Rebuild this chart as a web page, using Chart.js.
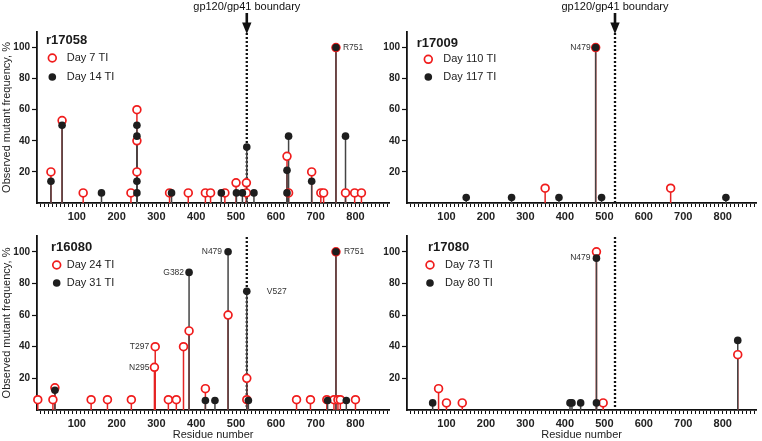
<!DOCTYPE html>
<html><head><meta charset="utf-8">
<script src="https://cdn.jsdelivr.net/npm/chart.js@4.4.1/dist/chart.umd.min.js"></script>
<style>
html,body{margin:0;padding:0;background:#fff;width:762px;height:441px;overflow:hidden;position:relative;}
canvas{position:absolute;}
</style></head><body>
<canvas id="c1" width="395" height="226" style="left:0;top:0"></canvas>
<canvas id="c2" width="382" height="226" style="left:380px;top:0"></canvas>
<canvas id="c3" width="395" height="215" style="left:0;top:226px"></canvas>
<canvas id="c4" width="382" height="215" style="left:380px;top:226px"></canvas>
<script>
Chart.defaults.font.family = "'Liberation Sans', Arial, sans-serif";
Chart.defaults.color = '#222';

// ---- shared axis values ----
const BOUNDARY = 527;
const X_MAX = 885;
const yTickValues = [20, 40, 60, 80, 100];
const xTickLabels = [100, 200, 300, 400, 500, 600, 700, 800];
const X_MINOR_STEP = 10;

// ---- r17058 ----
const r17058_day7_res  = [35,63,116,236,251,251,251,333,380,423,436,472,500,526,526,628,632,690,713,720,751,775,798,815];
const r17058_day7_freq = [20,53,6.5,6.5,60,40,20,6.5,6.5,6.5,6.5,6.5,13,13,6.5,30,6.5,20,6.5,6.5,100,6.5,6.5,6.5];
const r17058_day14_res  = [35,63,162,251,251,251,251,338,463,501,516,527,545,628,628,632,690,751,775];
const r17058_day14_freq = [14,50,6.5,50,43,14,6.5,6.5,6.5,6.5,6.5,36,6.5,21,6.5,43,14,100,43];

// ---- r17009 ----
const r17009_day110_res  = [350,478,668];
const r17009_day110_freq = [9.5,100,9.5];
const r17009_day117_res  = [150,265,385,478,493,808];
const r17009_day117_freq = [3.5,3.5,3.5,100,3.5,3.5];

// ---- r16080 ----
const r16080_day24_res  = [2,40,45,136,177,237,295,297,330,350,368,382,423,480,527,527,652,687,728,746,751,756,762,800];
const r16080_day24_freq = [6.5,6.5,14,6.5,6.5,6.5,27,40,6.5,6.5,40,50,13.5,60,20,6.5,6.5,6.5,6.5,6.5,100,6.5,6.5,6.5];
const r16080_day31_res  = [45,382,423,447,480,527,531,730,751,777];
const r16080_day31_freq = [12.5,87,6,6,100,75,6,6,100,6];

// ---- r17080 ----
const r17080_day73_res  = [80,100,140,480,497,838];
const r17080_day73_freq = [13.5,4.5,4.5,100,4.5,35];
const r17080_day80_res  = [65,413,418,440,480,480,838];
const r17080_day80_freq = [4.5,4.5,4.5,4.5,4.5,96,44];

const RED = '#f01c1c';
const BLACK = '#1e1e1e';

const panelPlugin = {
  id: 'panel',
  beforeDatasetsDraw(chart, args, o) {
    const {ctx, chartArea, scales: {x, y}} = chart;
    const y0 = y.getPixelForValue(0);
    const bx = x.getPixelForValue(BOUNDARY);
    ctx.save();
    ctx.strokeStyle = '#111';
    ctx.lineWidth = 2.3;
    ctx.setLineDash([2, 2]);
    ctx.beginPath();
    ctx.moveTo(bx, chartArea.top + 1);
    ctx.lineTo(bx, y0);
    ctx.stroke();
    ctx.setLineDash([]);
    [1, 0].forEach(di => {
      const ds = chart.data.datasets[di];
      const meta = chart.getDatasetMeta(di);
      ctx.strokeStyle = ds.stemColor;
      ctx.lineWidth = 1.5;
      meta.data.forEach(pt => {
        ctx.beginPath();
        ctx.moveTo(pt.x, y0);
        ctx.lineTo(pt.x, pt.y);
        ctx.stroke();
      });
    });
    ctx.restore();
  },
  afterDraw(chart, args, o) {
    const {ctx, chartArea, scales: {x, y}} = chart;
    ctx.save();
    // boundary arrow + caption
    if (o.arrow) {
      const bx = x.getPixelForValue(BOUNDARY);
      ctx.strokeStyle = '#111';
      ctx.fillStyle = '#111';
      ctx.lineWidth = 2.6;
      ctx.beginPath();
      ctx.moveTo(bx, 13);
      ctx.lineTo(bx, 24);
      ctx.stroke();
      ctx.beginPath();
      ctx.moveTo(bx - 4.7, 22.5);
      ctx.lineTo(bx + 4.7, 22.5);
      ctx.lineTo(bx, 34);
      ctx.closePath();
      ctx.fill();
      ctx.font = "11px 'Liberation Sans', Arial, sans-serif";
      ctx.textAlign = 'center';
      ctx.textBaseline = 'middle';
      ctx.fillText('gp120/gp41 boundary', bx, 6.5);
    }
    // legend
    const L = o.legend;
    const lx = chartArea.left, ty = chartArea.top;
    ctx.fillStyle = '#1a1a1a';
    ctx.font = "bold 13px 'Liberation Sans', Arial, sans-serif";
    ctx.textAlign = 'left';
    ctx.textBaseline = 'middle';
    ctx.fillText(L.title, lx + L.titleDx, ty + L.titleDy);
    ctx.font = "11px 'Liberation Sans', Arial, sans-serif";
    ctx.fillStyle = '#222';
    ctx.fillText(chart.data.datasets[1].label, lx + L.textDx, ty + L.redDy);
    ctx.fillText(chart.data.datasets[0].label, lx + L.textDx, ty + L.blackDy);
    ctx.beginPath();
    ctx.arc(lx + L.markDx, ty + L.redDy, 3.9, 0, Math.PI * 2);
    ctx.fillStyle = '#fff';
    ctx.fill();
    ctx.lineWidth = 1.7;
    ctx.strokeStyle = RED;
    ctx.stroke();
    ctx.beginPath();
    ctx.arc(lx + L.markDx, ty + L.blackDy, 3.8, 0, Math.PI * 2);
    ctx.fillStyle = BLACK;
    ctx.fill();
    // point labels
    ctx.font = "8.5px 'Liberation Sans', Arial, sans-serif";
    ctx.fillStyle = '#333';
    (o.labels || []).forEach(lb => {
      const px = x.getPixelForValue(lb.res);
      const py = y.getPixelForValue(lb.freq);
      ctx.textAlign = lb.dx < 0 ? 'right' : 'left';
      ctx.fillText(lb.text, px + lb.dx, py);
    });
    ctx.restore();
  }
};

function pts(res, freq) { return res.map((r, i) => ({x: r, y: freq[i]})); }

function makePanel(id, p) {
  const minorTicks = [];
  for (let v = X_MINOR_STEP; v <= X_MAX; v += X_MINOR_STEP) minorTicks.push(v);
  new Chart(document.getElementById(id), {
    type: 'scatter',
    data: {
      datasets: [
        {label: p.blackLabel, data: pts(p.blackRes, p.blackFreq), stemColor: '#444',
         pointRadius: 3.8, pointBackgroundColor: BLACK, pointBorderColor: BLACK, pointBorderWidth: 0, clip: false},
        {label: p.redLabel, data: pts(p.redRes, p.redFreq), stemColor: '#e52424',
         pointRadius: 3.9, pointBackgroundColor: '#fff', pointBorderColor: RED, pointBorderWidth: 1.7, clip: false}
      ]
    },
    options: {
      responsive: false, animation: false, devicePixelRatio: 1,
      events: [],
      layout: {padding: {top: p.padTop, right: p.padRight, left: 0, bottom: 0}},
      plugins: {
        legend: {display: false}, tooltip: {enabled: false},
        panel: {arrow: p.arrow, legend: p.legend, labels: p.labels}
      },
      scales: {
        x: {
          type: 'linear', min: 0, max: X_MAX,
          afterFit: s => { s.height = p.xh; },
          afterBuildTicks: s => { s.ticks = minorTicks.map(v => ({value: v})); },
          ticks: {autoSkip: false, maxRotation: 0, minRotation: 0, padding: 3, color: '#222',
                  font: {size: 11, weight: 'bold'},
                  callback: v => xTickLabels.includes(v) ? String(v) : ''},
          grid: {drawOnChartArea: false, drawTicks: true, tickLength: 4, tickColor: '#111', tickWidth: 1},
          border: {color: '#111', width: 1.8},
          title: {display: p.xTitle, text: 'Residue number', color: '#222',
                  font: {size: 11, lineHeight: 1}, padding: {top: 0, bottom: 1}}
        },
        y: {
          min: 0, max: 110,
          afterFit: s => { s.width = p.yw; },
          afterBuildTicks: s => { s.ticks = yTickValues.map(v => ({value: v})); },
          ticks: {padding: 2, color: '#222', font: {size: 10, weight: 'bold'}},
          grid: {drawOnChartArea: false, drawTicks: true, tickLength: 5, tickColor: '#111', tickWidth: 1.2},
          border: {color: '#111', width: 1.8},
          title: {display: p.yTitle, text: 'Observed mutant frequency, %', color: '#222',
                  font: {size: 11, lineHeight: 1.2}, padding: 0}
        }
      }
    },
    plugins: [panelPlugin]
  });
}

makePanel('c1', {
  redLabel: 'Day 7 TI', blackLabel: 'Day 14 TI',
  redRes: r17058_day7_res, redFreq: r17058_day7_freq,
  blackRes: r17058_day14_res, blackFreq: r17058_day14_freq,
  padTop: 32, padRight: 3, xh: 23, yw: 37, xTitle: false, yTitle: true, arrow: true,
  legend: {title: 'r17058', titleDx: 9, titleDy: 8.5, markDx: 15.3, textDx: 29.7, redDy: 26, blackDy: 45},
  labels: [{text: 'R751', res: 751, freq: 100, dx: 7}]
});
makePanel('c2', {
  redLabel: 'Day 110 TI', blackLabel: 'Day 117 TI',
  redRes: r17009_day110_res, redFreq: r17009_day110_freq,
  blackRes: r17009_day117_res, blackFreq: r17009_day117_freq,
  padTop: 32, padRight: 0, xh: 23, yw: 27, xTitle: false, yTitle: false, arrow: true,
  legend: {title: 'r17009', titleDx: 9.7, titleDy: 11, markDx: 21.3, textDx: 36.3, redDy: 27.3, blackDy: 45},
  labels: [{text: 'N479', res: 478, freq: 100, dx: -5}]
});
makePanel('c3', {
  redLabel: 'Day 24 TI', blackLabel: 'Day 31 TI',
  redRes: r16080_day24_res, redFreq: r16080_day24_freq,
  blackRes: r16080_day31_res, blackFreq: r16080_day31_freq,
  padTop: 10, padRight: 2, xh: 31, yw: 37, xTitle: true, yTitle: true, arrow: false,
  legend: {title: 'r16080', titleDx: 14, titleDy: 11, markDx: 19.7, textDx: 29.7, redDy: 29, blackDy: 47},
  labels: [
    {text: 'G382', res: 382, freq: 87, dx: -5},
    {text: 'N479', res: 480, freq: 100, dx: -6},
    {text: 'T297', res: 297, freq: 40, dx: -6},
    {text: 'N295', res: 295, freq: 27, dx: -5},
    {text: 'V527', res: 527, freq: 75, dx: 20},
    {text: 'R751', res: 751, freq: 100, dx: 8}
  ]
});
makePanel('c4', {
  redLabel: 'Day 73 TI', blackLabel: 'Day 80 TI',
  redRes: r17080_day73_res, redFreq: r17080_day73_freq,
  blackRes: r17080_day80_res, blackFreq: r17080_day80_freq,
  padTop: 10, padRight: 0, xh: 31, yw: 27, xTitle: true, yTitle: false, arrow: false,
  legend: {title: 'r17080', titleDx: 21, titleDy: 11, markDx: 23, textDx: 38, redDy: 29, blackDy: 47},
  labels: [{text: 'N479', res: 480, freq: 96, dx: -6}]
});
</script>
</body></html>
